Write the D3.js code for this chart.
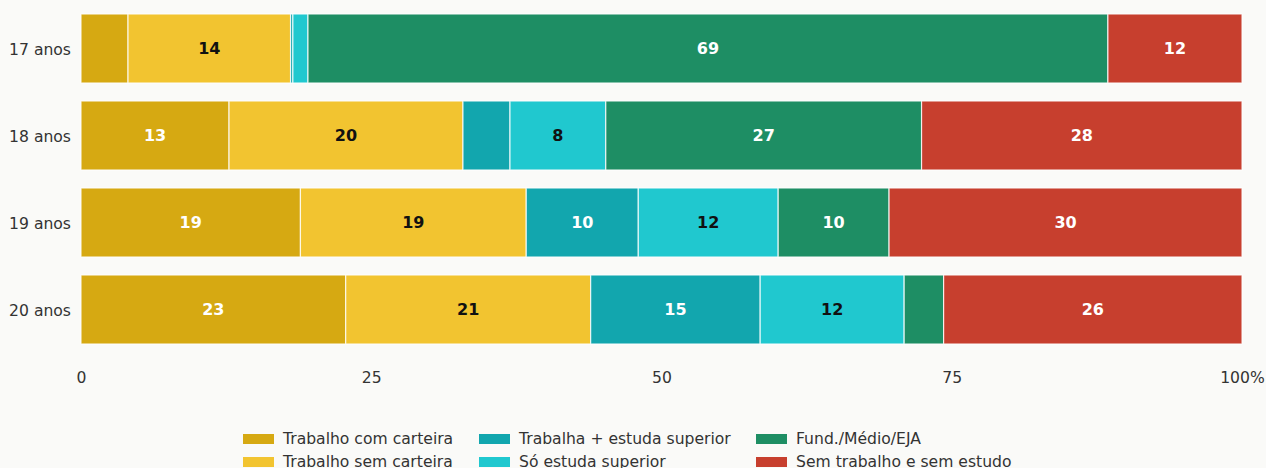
<!DOCTYPE html>
<html>
<head>
<meta charset="utf-8">
<script src="https://cdn.jsdelivr.net/npm/d3@7"></script>
<style>
  body { margin: 0; background: #fafaf8; }
  svg { display: block; font-family: "DejaVu Sans", sans-serif; }
</style>
</head>
<body>
<script>
// categories and series (percent of each age group)
var ages = ["17 anos", "18 anos", "19 anos", "20 anos"];
var series = ["Trabalho com carteira", "Trabalho sem carteira", "Trabalha + estuda superior",
              "Só estuda superior", "Fund./Médio/EJA", "Sem trabalho e sem estudo"];
var comCarteira   = [4.05, 12.75, 18.9, 22.8];
var semCarteira   = [14.0, 20.15, 19.45, 21.1];
var estudaTrab    = [0.2, 4.05, 9.65, 14.6];
var soSuperior    = [1.3, 8.25, 12.05, 12.4];
var fundMedio     = [68.9, 27.2, 9.55, 3.4];
var semNada       = [11.55, 27.6, 30.4, 25.7];
var xTicks = [0, 25, 50, 75, 100];
var colors = ["#d6a912", "#f2c430", "#12a6ae", "#20c8cf", "#1e8e64", "#c73f2e"];
var labelColors = ["#fff", "#111", "#fff", "#111", "#fff", "#fff"];

var values = [comCarteira, semCarteira, estudaTrab, soSuperior, fundMedio, semNada];

var width = 1266, height = 468;
var svg = d3.select("body").append("svg")
    .attr("width", width)
    .attr("height", height);

var x = d3.scaleLinear().domain([0, 100]).range([81, 1242]);
var y = d3.scaleBand().domain(ages).range([5, 353])
    .paddingInner(0.207).paddingOuter(0.1035);

// build stacked rows
var rows = ages.map(function(a, i) {
  var row = { age: a };
  series.forEach(function(s, j) { row[s] = values[j][i]; });
  return row;
});
var stacked = d3.stack().keys(series)(rows);

var layers = svg.append("g").selectAll("g")
  .data(stacked)
  .enter().append("g")
    .attr("fill", function(d, i) { return colors[i]; });

layers.selectAll("rect")
  .data(function(d) { return d; })
  .enter().append("rect")
    .attr("x", function(d) { return x(d[0]); })
    .attr("y", function(d) { return y(d.data.age); })
    .attr("width", function(d) { return x(d[1]) - x(d[0]); })
    .attr("height", y.bandwidth())
    .attr("stroke", "#fff")
    .attr("stroke-opacity", 0.8)
    .attr("stroke-width", 1.2);

// value labels, only on wide enough segments
layers.each(function(layer, i) {
  d3.select(this).selectAll("text")
    .data(layer.filter(function(d) { return d[1] - d[0] >= 5; }))
    .enter().append("text")
      .attr("x", function(d) { return (x(d[0]) + x(d[1])) / 2; })
      .attr("y", function(d) { return y(d.data.age) + y.bandwidth() / 2; })
      .attr("dy", "0.35em")
      .attr("text-anchor", "middle")
      .attr("font-size", 16)
      .attr("font-weight", "bold")
      .attr("fill", labelColors[i])
      .text(function(d) { return Math.round(d[1] - d[0]); });
});

// y axis (labels only)
var yAxis = svg.append("g")
    .attr("transform", "translate(81,1)")
    .call(d3.axisLeft(y).tickSize(0).tickPadding(10));
yAxis.select(".domain").remove();
yAxis.selectAll("text").attr("font-size", 15.6).attr("fill", "#333")
    .attr("font-family", "DejaVu Sans, sans-serif");

// x axis (labels only)
var xAxis = svg.append("g")
    .attr("transform", "translate(0,372)")
    .call(d3.axisBottom(x).tickValues(xTicks).tickSize(0).tickPadding(0)
      .tickFormat(function(d) { return d === 100 ? "100%" : d; }));
xAxis.select(".domain").remove();
xAxis.selectAll("text").attr("font-size", 15.6).attr("fill", "#333")
    .attr("font-family", "DejaVu Sans, sans-serif");

// legend
var legendX = [243, 479, 756];
var legend = svg.append("g").selectAll("g")
  .data(series)
  .enter().append("g")
    .attr("transform", function(d, i) {
      return "translate(" + legendX[Math.floor(i / 2)] + "," + (434 + (i % 2) * 23) + ")";
    });
legend.append("rect")
    .attr("width", 31).attr("height", 10)
    .attr("fill", function(d, i) { return colors[i]; });
legend.append("text")
    .attr("x", 40).attr("y", 5).attr("dy", "0.35em")
    .attr("font-size", 15.6).attr("fill", "#333")
    .text(function(d) { return d; });
</script>
</body>
</html>
